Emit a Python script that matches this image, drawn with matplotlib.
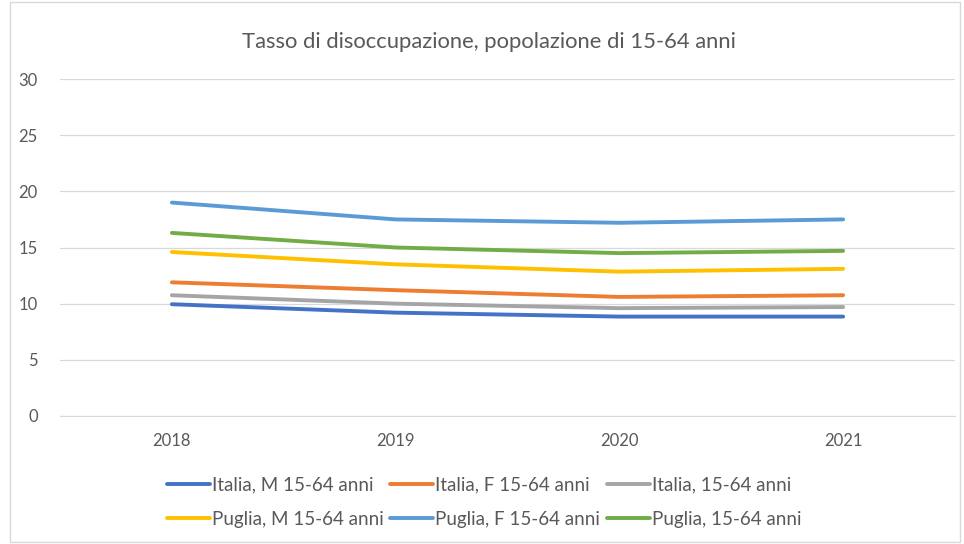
#!/usr/bin/env python3
"""Tasso di disoccupazione 15-64 anni - Italia vs Puglia"""
import matplotlib
matplotlib.use("Agg")
import matplotlib.pyplot as plt
from matplotlib.patches import Rectangle

plt.rcParams["font.family"] = ["Lato", "DejaVu Sans"]

# ===== 数据 =====
anni = ["2018", "2019", "2020", "2021"]
italia_m = [9.95, 9.2, 8.85, 8.85]
italia_f = [11.9, 11.2, 10.6, 10.75]
italia_tot = [10.75, 10.0, 9.6, 9.7]
puglia_m = [14.6, 13.5, 12.85, 13.1]
puglia_f = [19.0, 17.5, 17.2, 17.5]
puglia_tot = [16.3, 15.0, 14.5, 14.7]

serie = [
    ("Italia, M 15-64 anni", italia_m, "#4472C4"),
    ("Italia, F 15-64 anni", italia_f, "#ED7D31"),
    ("Italia, 15-64 anni", italia_tot, "#A5A5A5"),
    ("Puglia, M 15-64 anni", puglia_m, "#FFC000"),
    ("Puglia, F 15-64 anni", puglia_f, "#5B9BD5"),
    ("Puglia, 15-64 anni", puglia_tot, "#70AD47"),
]

fig = plt.figure(figsize=(9.64, 5.44), dpi=100)
ax = fig.add_axes([60/964, 1 - 416/544, (955-60)/964, (416-79)/544])

x = range(len(anni))
handles = []
for nome, vals, col in serie:
    h, = ax.plot(x, vals, color=col, linewidth=2.8, label=nome,
                 solid_capstyle="round")
    handles.append(h)

ax.set_xlim(-0.5, len(anni) - 0.5)
ax.set_ylim(0, 30)
ax.set_yticks(range(0, 31, 5))
ax.set_xticks(list(x))
ax.set_xticklabels(anni)
ax.tick_params(axis="both", length=0, labelsize=12, labelcolor="#595959")
ax.tick_params(axis="y", pad=16)
ax.tick_params(axis="x", pad=12)
ax.grid(axis="y", color="#D9D9D9", linewidth=0.9)
ax.set_axisbelow(True)
for s in ["top", "right", "left"]:
    ax.spines[s].set_visible(False)
ax.spines["bottom"].set_color("#D9D9D9")

fig.text(489/964, 1 - 42/544, "Tasso di disoccupazione, popolazione di 15-64 anni",
         ha="center", va="center", fontsize=15.8, color="#595959")

# legenda: ordine per righe
ordine = [0, 3, 1, 4, 2, 5]
fig.legend([handles[i] for i in ordine], [serie[i][0] for i in ordine],
           ncol=3, loc="center", bbox_to_anchor=(484/964, 1 - 502/544),
           frameon=False, fontsize=13.5, labelcolor="#595959",
           handlelength=2.3, handletextpad=0.1, columnspacing=0.35,
           labelspacing=0.95)

# bordo del grafico
fig.patches.append(Rectangle((10/964, 0.003), 1 - 14/964, 0.994,
                             transform=fig.transFigure, fill=False,
                             edgecolor="#D9D9D9", linewidth=1))

fig.savefig("out.png", dpi=100)
plt.close()
